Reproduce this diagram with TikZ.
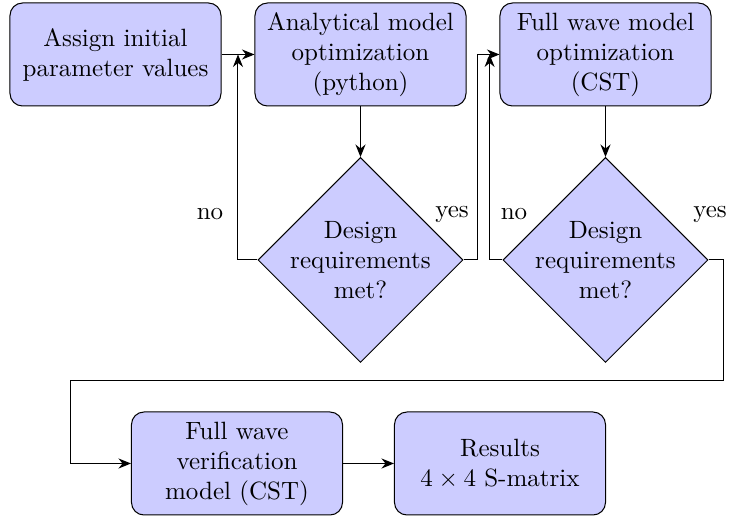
\documentclass[tikz,border=0pt]{standalone}
\usetikzlibrary{shapes.geometric,calc,arrows.meta}
\begin{document}
\begin{tikzpicture}[x=0.4pt,y=-0.4pt,
  box/.style={draw,fill=blue!20,rounded corners=5pt,minimum width=84.4pt,minimum height=41.2pt,align=center,inner sep=0pt},
  dia/.style={draw,fill=blue!20,diamond,shape aspect=1,minimum width=82pt,minimum height=82pt,inner sep=0pt},
  arr/.style={-{Stealth[length=5pt,width=4pt]}},
  lab/.style={inner sep=0pt}]
\useasboundingbox (0,0) rectangle (729,519);
\node[box] (b1) at (115.5,54.5) {Assign initial\\parameter values};
\node[box] (b2) at (360.5,54.5) {Analytical model\\optimization\\(python)};
\node[box] (b3) at (605.5,54.5) {Full wave model\\optimization\\(CST)};
\node[dia,label={[align=center]center:Design\\requirements\\met?}] (d1) at (360.5,260) {};
\node[dia,label={[align=center]center:Design\\requirements\\met?}] (d2) at (605.5,260) {};
\node[box] (b4) at (237,463.5) {Full wave\\verification\\model (CST)};
\node[box] (b5) at (500,463.5) {Results\\$4\times4$ S-matrix};
\coordinate (j1) at ($(b1.east)!0.5!(b2.west)$);
\coordinate (j2) at ($(b2.east)!0.7!(b3.west)$);
\draw[arr] (b1.east) -- (b2.west);
\draw[arr] (b2.south) -- (d1.north);
\draw[arr] (b3.south) -- (d2.north);
\draw[arr] (d1.west) -| (j1);
\draw[arr] (d1.east) -- ++(14,0) |- (b3.west);
\draw[arr] (d2.west) -| (j2);
\coordinate (c1) at (724,381);
\coordinate (c2) at (71,381);
\draw[arr] (d2.east) -| (c1) -- (c2) |- (b4.west);
\draw[arr] (b4.east) -- (b5.west);
\node[lab] (n1) at (210,214) {no};
\node[lab] (y1) at (452,214) {yes};
\node[lab] (n2) at (514,214) {no};
\node[lab] (y2) at (710,214) {yes};
\end{tikzpicture}
\end{document}
